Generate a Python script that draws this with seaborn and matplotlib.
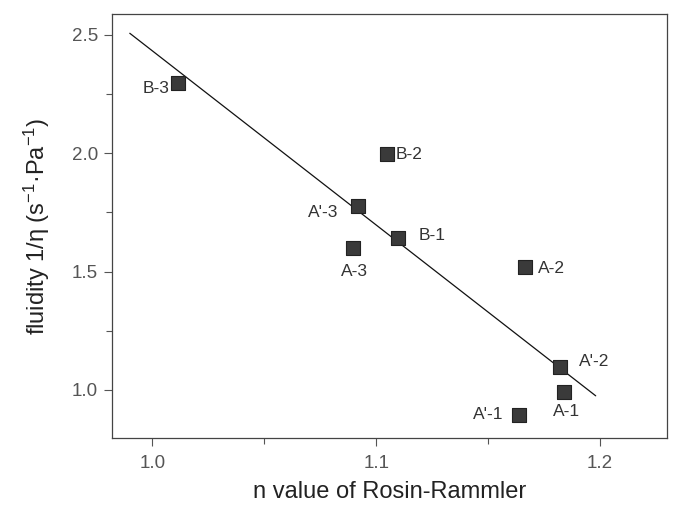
import matplotlib
matplotlib.use("Agg")
import matplotlib.pyplot as plt
import seaborn as sns
import pandas as pd
from matplotlib.ticker import MultipleLocator

# sample points
samples = ["B-3", "B-2", "A'-3", "A-3", "B-1", "A-2", "A'-2", "A-1", "A'-1"]
n_value = [1.0116, 1.105, 1.0921, 1.0897, 1.1098, 1.1665, 1.1819, 1.1839, 1.1638]
fluidity = [2.296, 1.995, 1.775, 1.600, 1.642, 1.520, 1.095, 0.992, 0.895]

# fitted line ends
fit_x = [0.990, 1.198]
fit_y = [2.507, 0.975]

df = pd.DataFrame({"sample": samples, "n": n_value, "fluidity": fluidity})
fit = pd.DataFrame({"n": fit_x, "fluidity": fit_y})

sns.set_theme(style="ticks")
plt.rcParams["font.family"] = ["Liberation Sans", "DejaVu Sans"]
plt.rcParams["mathtext.fontset"] = "custom"
plt.rcParams["mathtext.rm"] = "Liberation Sans"
plt.rcParams["mathtext.it"] = "Liberation Sans"

fig = plt.figure(figsize=(6.78, 5.14), dpi=100)
ax = fig.add_axes([0.165, 0.148, 0.819, 0.825])

sns.lineplot(data=fit, x="n", y="fluidity", ax=ax, color="#111111", linewidth=0.9)
sns.scatterplot(data=df, x="n", y="fluidity", ax=ax, marker="s", s=110,
                color="#3a3a3a", edgecolor="#222222", linewidth=0.8, zorder=3)

# label offsets in points (dx, dy, ha)
offsets = {
    "B-3": (-6, -4, "right"),
    "B-2": (6, 0, "left"),
    "A'-3": (-14.5, -4, "right"),
    "A-3": (-9, -17, "left"),
    "B-1": (14.4, 2, "left"),
    "A-2": (9.4, -1, "left"),
    "A'-2": (14, 4, "left"),
    "A-1": (-8, -14.4, "left"),
    "A'-1": (-11.5, 0, "right"),
}
for s, x, y in zip(samples, n_value, fluidity):
    dx, dy, ha = offsets[s]
    ax.annotate(s, (x, y), xytext=(dx, dy), textcoords="offset points",
                ha=ha, va="center", fontsize=12.5, color="#333333")

ax.set_xlim(0.982, 1.2299)
ax.set_ylim(0.797, 2.589)
ax.xaxis.set_major_locator(MultipleLocator(0.1))
ax.xaxis.set_minor_locator(MultipleLocator(0.05))
ax.yaxis.set_major_locator(MultipleLocator(0.5))
ax.yaxis.set_minor_locator(MultipleLocator(0.25))
ax.tick_params(which="both", direction="out", colors="#555555", labelsize=13.5,
               width=0.8)
ax.tick_params(which="major", length=6)
ax.tick_params(which="minor", length=4)
ax.tick_params(axis="x", pad=6)
ax.tick_params(axis="y", pad=4)
for sp in ax.spines.values():
    sp.set_color("#444444")
    sp.set_linewidth(0.9)

ax.set_xlabel("n value of Rosin-Rammler", fontsize=17, labelpad=7, color="#222222")
ax.set_ylabel(r"fluidity 1/η (s$^{-1}$·Pa$^{-1}$)", fontsize=17, labelpad=14,
              color="#222222")

fig.savefig("out.png", dpi=100)
